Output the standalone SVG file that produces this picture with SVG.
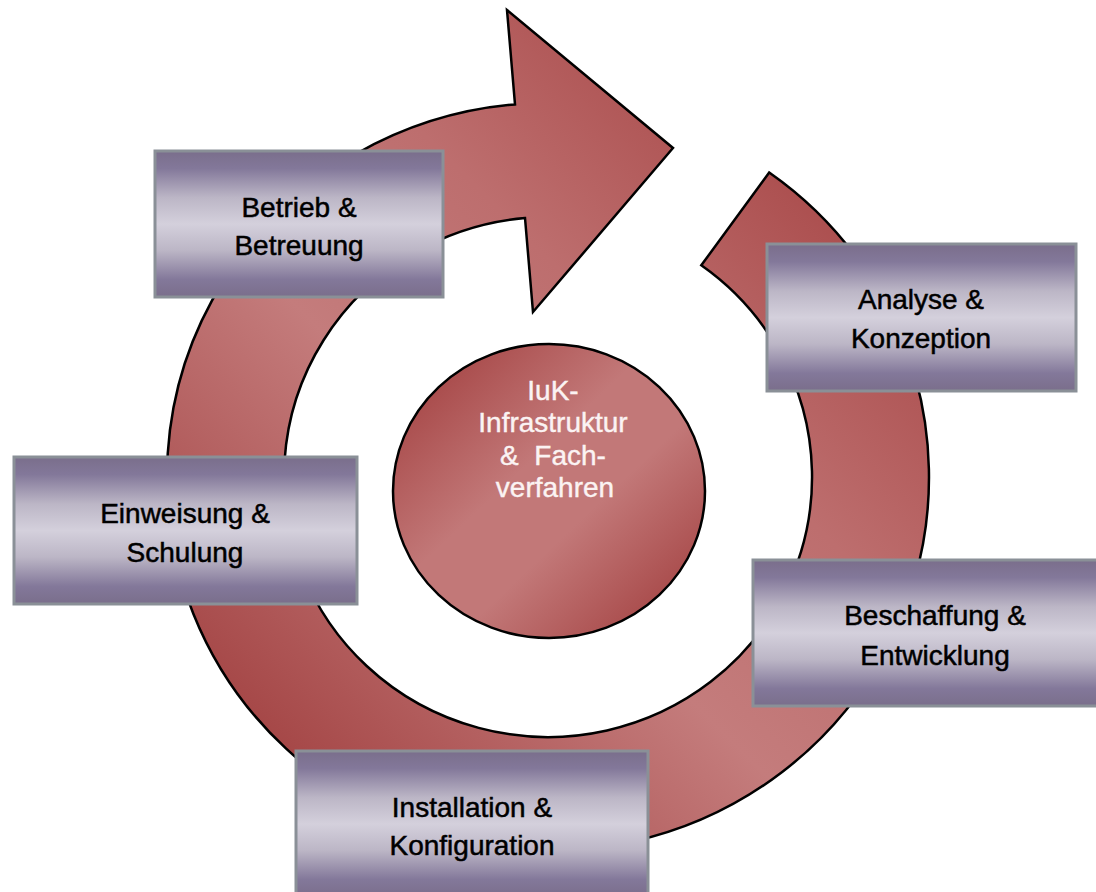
<svg xmlns="http://www.w3.org/2000/svg" width="1096" height="892" viewBox="0 0 1096 892">
<defs>
<linearGradient id="ringGrad" gradientUnits="userSpaceOnUse" x1="250" y1="800" x2="850" y2="200">
<stop offset="0" stop-color="#a03e3e"/>
<stop offset="0.45" stop-color="#c47c7c"/>
<stop offset="0.7" stop-color="#bd6e6e"/>
<stop offset="1" stop-color="#aa4c4c"/>
</linearGradient>
<linearGradient id="hubGrad" x1="0" y1="0" x2="1" y2="1">
<stop offset="0.05" stop-color="#a23f3f"/>
<stop offset="0.42" stop-color="#c27878"/>
<stop offset="0.6" stop-color="#c27878"/>
<stop offset="0.95" stop-color="#a23f3f"/>
</linearGradient>
<linearGradient id="boxGrad" x1="0" y1="0" x2="0" y2="1">
<stop offset="0" stop-color="#7a6e8b"/>
<stop offset="0.12" stop-color="#83789a"/>
<stop offset="0.32" stop-color="#bcb6c6"/>
<stop offset="0.5" stop-color="#d4d0dc"/>
<stop offset="0.68" stop-color="#bcb6c6"/>
<stop offset="0.88" stop-color="#83789a"/>
<stop offset="1" stop-color="#7a6e8b"/>
</linearGradient>
</defs>
<style>
.box{fill:url(#boxGrad);stroke:#8a9097;stroke-width:3}
.lbl{font-family:"Liberation Sans",Arial,sans-serif;font-size:28px;fill:#000;stroke:#000;stroke-width:0.5;text-anchor:middle}
.hub{font-family:"Liberation Sans",Arial,sans-serif;font-size:28px;fill:#fbf3f3;stroke:#fbf3f3;stroke-width:0.4;text-anchor:middle;white-space:pre}
</style>
<rect width="1096" height="892" fill="#fff"/>
<g id="connectors">
<path id="cycle-arrow" d="M 769.2 172.5 A 381 374 0 1 1 515 104.4 L 507 10 L 673 148 L 533 312 L 525 218 A 264 260 0 1 0 701.3 265.3 Z" fill="url(#ringGrad)" stroke="#000" stroke-width="2.5" stroke-linejoin="miter"/>
</g>
<g id="hub">
<ellipse cx="549" cy="491" rx="156" ry="147" fill="url(#hubGrad)" stroke="#000" stroke-width="2.5"/>
<text class="hub" x="553" y="400">IuK-</text>
<text class="hub" x="553" y="432">Infrastruktur</text>
<text class="hub" x="553" y="465">&amp;  Fach-</text>
<text class="hub" x="555" y="497">verfahren</text>
</g>
<g id="betrieb">
<rect class="box" x="155" y="151" width="288" height="146"/>
<text class="lbl" x="299" y="217">Betrieb &amp;</text>
<text class="lbl" x="299" y="255">Betreuung</text>
</g>
<g id="analyse">
<rect class="box" x="767" y="244" width="309" height="147"/>
<text class="lbl" x="921" y="309">Analyse &amp;</text>
<text class="lbl" x="921" y="348">Konzeption</text>
</g>
<g id="einweisung">
<rect class="box" x="14" y="457" width="343" height="147"/>
<text class="lbl" x="185" y="523">Einweisung &amp;</text>
<text class="lbl" x="185" y="562">Schulung</text>
</g>
<g id="beschaffung">
<rect class="box" x="753" y="560" width="364" height="146"/>
<text class="lbl" x="935" y="625">Beschaffung &amp;</text>
<text class="lbl" x="935" y="665">Entwicklung</text>
</g>
<g id="installation">
<rect class="box" x="296" y="751" width="352" height="146"/>
<text class="lbl" x="472" y="817">Installation &amp;</text>
<text class="lbl" x="472" y="855">Konfiguration</text>
</g>
</svg>
